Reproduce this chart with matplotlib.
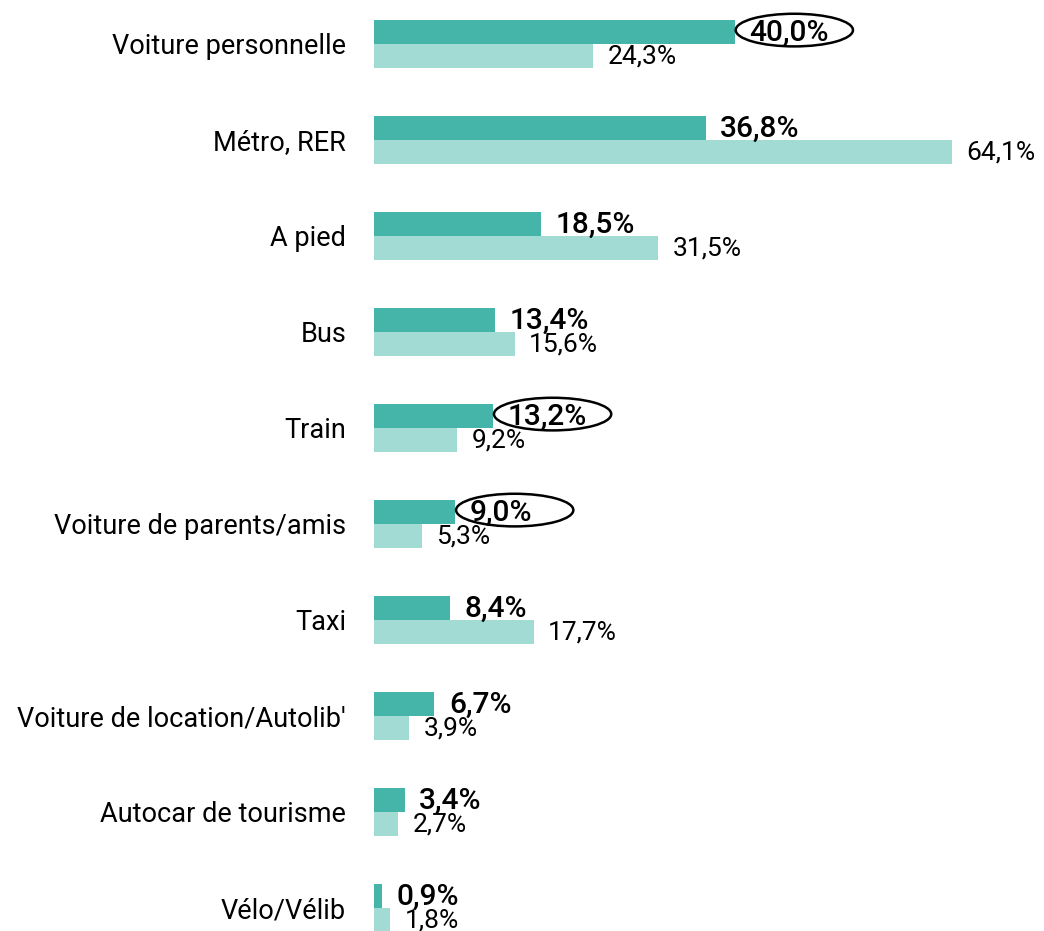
import matplotlib
matplotlib.use("Agg")
import matplotlib.pyplot as plt
from matplotlib.patches import Ellipse

categories = [
    "Voiture personnelle",
    "Métro, RER",
    "A pied",
    "Bus",
    "Train",
    "Voiture de parents/amis",
    "Taxi",
    "Voiture de location/Autolib'",
    "Autocar de tourisme",
    "Vélo/Vélib",
]
dark_values = [40.0, 36.8, 18.5, 13.4, 13.2, 9.0, 8.4, 6.7, 3.4, 0.9]
light_values = [24.3, 64.1, 31.5, 15.6, 9.2, 5.3, 17.7, 3.9, 2.7, 1.8]
circled = ["Voiture personnelle", "Train", "Voiture de parents/amis"]

dark_color = "#45b5aa"
light_color = "#a2dad4"

plt.rcParams["font.family"] = ["Roboto", "DejaVu Sans"]

fig = plt.figure(figsize=(10.44, 9.31), dpi=100)
ax = fig.add_axes([374 / 1044, 0, 670 / 1044, 1])

h = 0.25
ys = list(range(len(categories)))
ax.barh([y - h / 2 for y in ys], dark_values, height=h, color=dark_color)
ax.barh([y + h / 2 for y in ys], light_values, height=h, color=light_color)

def fmt(v):
    return f"{v:.1f}%".replace(".", ",")

for y, cat, d, l in zip(ys, categories, dark_values, light_values):
    ax.text(d + 1.6, y - h / 2 + 0.01, fmt(d), va="center", ha="left",
            fontsize=21.5, fontweight="medium")
    ax.text(l + 1.6, y + h / 2 + 0.01, fmt(l), va="center", ha="left",
            fontsize=19)
    if cat in circled:
        ax.add_patch(Ellipse((d + 6.6, y - h / 2 - 0.02), 13.0, 0.34,
                             fill=False, edgecolor="black", linewidth=1.8))

ax.set_xlim(0, 670 / 9.02)
ax.set_ylim(931 / 96 - 44 / 96, -44 / 96)
ax.set_yticks(ys)
ax.set_yticklabels(categories, fontsize=19.5)
ax.tick_params(axis="y", length=0, pad=20)
ax.set_xticks([])
for s in ax.spines.values():
    s.set_visible(False)

fig.savefig("out.png", dpi=100)
